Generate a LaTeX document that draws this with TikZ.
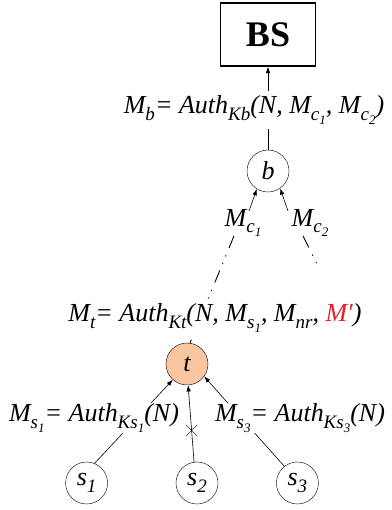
\documentclass[tikz,border=0pt]{standalone}
\usepackage{fontspec}
\setmainfont{Liberation Serif}
\usetikzlibrary{arrows.meta,positioning,shapes.misc}

\definecolor{peach}{RGB}{250,198,160}
\definecolor{mred}{RGB}{230,30,40}
\newcommand{\sub}[1]{\raisebox{-0.25em}{\fontsize{19pt}{19pt}\selectfont #1}}
\newcommand{\subsub}[1]{\raisebox{-0.2em}{\fontsize{13pt}{13pt}\selectfont #1}}

\begin{document}
\begin{tikzpicture}[
x=1pt, y=-1pt,
font=\fontsize{26pt}{29pt}\selectfont\itshape,
sensor/.style={draw, circle, minimum size=42pt, inner sep=0pt},
msg/.style={fill=white, inner sep=3pt},
arrow/.style={-{Latex[length=2.2mm,width=1.6mm]}, semithick},
dashdots/.style={line width=0.9pt, dash pattern=on 13pt off 8pt on 1.2pt off 7pt on 1.2pt off 7pt}
]
\useasboundingbox (0,0) rectangle (391,510);

\node[sensor] (b) at (268,171) {b};
\node[draw, line width=1.4pt, minimum width=95pt, minimum height=63pt, font=\fontsize{36pt}{40pt}\selectfont\bfseries, above=83pt of b] (bs) {BS};
\node[sensor, fill=peach] (t) at (187,364) {t};
\node[sensor] (s2) at (197,483) {s\sub{2}};
\node[sensor, left=68pt of s2] (s1) {s\sub{1}};
\node[sensor, right=58pt of s2] (s3) {s\sub{3}};

\node[inner sep=1pt] (mc1) at (243,223) {M\sub{c\subsub{1}}};
\node[inner sep=1pt] (mc2) at (310,223) {M\sub{c\subsub{2}}};
\coordinate (c2end) at (319,268);

% messages up the tree
\draw[arrow] (s1.68) -- (t.228);
\draw[arrow] (s2.98) -- (t.273) node[pos=0.41, cross out, draw, thin, minimum size=11pt, inner sep=0pt] (cut) {};
\draw[arrow] (s3.128) -- (t.-36);
\draw[dashdots] ([xshift=-9pt,yshift=2pt]mc1.south) -- (t.82);
\draw[dashdots] ([xshift=-7pt,yshift=2pt]mc2.south) -- (c2end);
\draw[arrow] ([xshift=6pt,yshift=-3pt]mc1.north) -- (b.238);
\draw[arrow] ([xshift=-22pt,yshift=-3pt]mc2.north) -- (b.305);
\draw[arrow] (b) -- (bs);

\node[msg, inner sep=1pt] (ms1) at (94,418) {M\sub{s\subsub{1}}= Auth\sub{Ks\subsub{1}}(N)};
\node[msg, inner sep=1pt] (ms3) at (300,418) {M\sub{s\subsub{3}}= Auth\sub{Ks\subsub{3}}(N)};
\node[msg, inner sep=4pt] (mt) at (215,318) {M\sub{t}= Auth\sub{Kt}(N, M\sub{s\subsub{1}}, M\sub{nr}, \textcolor{mred}{M′})};
\node[msg, inner sep=5pt] (mb) at (254,110) {M\sub{b}= Auth\sub{Kb}(N, M\sub{c\subsub{1}}, M\sub{c\subsub{2}})};
\end{tikzpicture}
\end{document}
